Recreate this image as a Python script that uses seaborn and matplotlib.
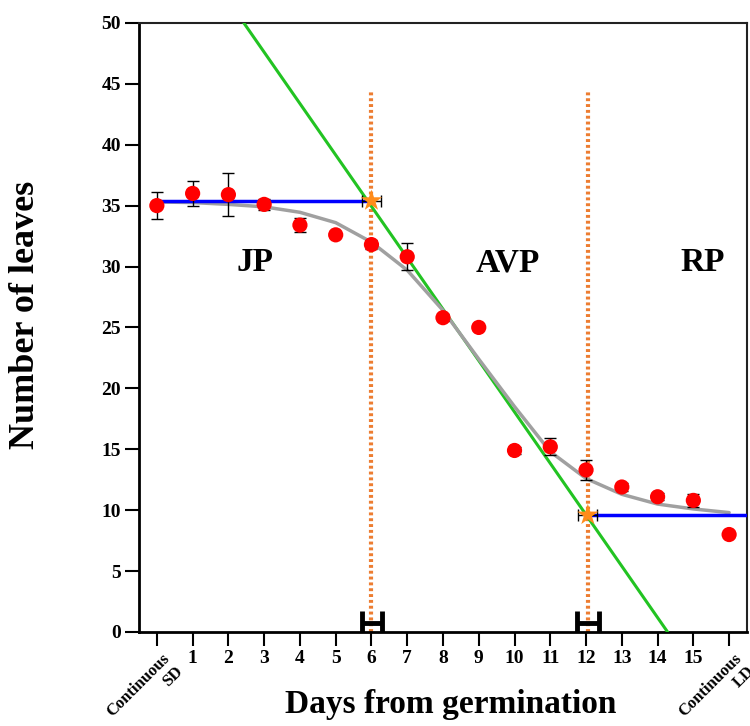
import matplotlib
matplotlib.use("Agg")
import matplotlib.pyplot as plt
import matplotlib.transforms as mtransforms
import seaborn as sns
import numpy as np
import pandas as pd

# ---- data ----
days = list(range(17))
tick_labels = ["Continuous\nSD"] + [str(i) for i in range(1, 16)] + ["Continuous\nLD"]
leaves = [35.0, 36.0, 35.9, 35.1, 33.4, 32.6, 31.8, 30.8, 25.8, 25.0,
          14.9, 15.2, 13.3, 11.9, 11.1, 10.8, 8.0]
leaves_err = [1.1, 1.0, 1.75, 0.45, 0.6, 0.0, 0.4, 1.1, 0.3, 0.0,
              0.3, 0.7, 0.85, 0.3, 0.3, 0.5, 0.0]
fit_curve = [35.3, 35.25, 35.1, 34.9, 34.45, 33.6, 32.0, 29.7, 26.4, 22.4,
             18.5, 14.8, 12.6, 11.3, 10.5, 10.1, 9.8]
green_x = [2.43, 14.28]
green_y = [50.0, 0.0]
jp_level = 35.4
rp_level = 9.6
transitions_x = [6.0, 12.05]
transitions_y = [35.4, 9.6]
transitions_xerr = [0.27, 0.27]
bottom_bar_x = [6.02, 12.05]
bottom_bar_err = [0.28, 0.3]
bottom_bar_y = 0.75
phase_labels = ["JP", "AVP", "RP"]
phase_x = [2.75, 9.8, 15.25]
phase_y = 30.3

sns.set_theme(style="white")
plt.rcParams['font.family'] = ['Liberation Serif', 'DejaVu Serif']
plt.rcParams.update({"text.color": "black", "axes.labelcolor": "black",
                     "xtick.color": "black", "ytick.color": "black"})

fig = plt.figure(figsize=(7.5, 7.26), dpi=100)
ax = fig.add_axes([0.1853, 0.1295, 0.8107, 0.8390])

orange = "#ED7D31"
# dotted vertical lines
for xv in transitions_x:
    ax.plot([xv, xv], [0, 44.3], color=orange, lw=3, linestyle=(0, (0.7, 0.7)), zorder=2)

# green regression line
sns.lineplot(x=green_x, y=green_y, color="#22C322", lw=2.2, ax=ax, zorder=3)

# grey fitted curve
df = pd.DataFrame({"day": days, "fit": fit_curve, "leaves": leaves, "err": leaves_err})
sns.lineplot(data=df, x="day", y="fit", color="#A0A0A0", lw=2.5, ax=ax, zorder=4)

# blue plateau lines
sns.lineplot(x=[0, transitions_x[0]], y=[jp_level, jp_level], color="#0000FF", lw=2.5, ax=ax, zorder=5)
sns.lineplot(x=[transitions_x[1], 16.5], y=[rp_level, rp_level], color="#0000FF", lw=2.5, ax=ax, zorder=5)

# error bars on data
ax.errorbar(df["day"], df["leaves"], yerr=df["err"], fmt="none", ecolor="black",
            elinewidth=1, capsize=4, capthick=1, zorder=6)
# data points
sns.scatterplot(data=df, x="day", y="leaves", color="#FF0000", s=120, edgecolor="none",
                ax=ax, zorder=7)

# transition stars with horizontal error
ax.errorbar(transitions_x, transitions_y, xerr=transitions_xerr, fmt="none", ecolor="black",
            elinewidth=1, capsize=4, zorder=8)
sns.scatterplot(x=transitions_x, y=transitions_y, marker="*", s=260, color="#FF8C1A",
                edgecolor="none", ax=ax, zorder=9)

# bottom thick H bars
ax.errorbar(bottom_bar_x, [bottom_bar_y] * 2, xerr=bottom_bar_err, fmt="none", ecolor="black",
            elinewidth=3.5, capsize=9, capthick=3.5, zorder=8)

# phase labels
for lab, px in zip(phase_labels, phase_x):
    ax.text(px, phase_y, lab, fontsize=24, fontweight="bold", ha="center", va="center",
            color="black")

ax.set_xlim(-0.5, 16.5)
ax.set_ylim(0, 50)
ax.set_yticks(range(0, 51, 5))
ax.set_yticklabels([str(v) for v in range(0, 51, 5)], fontsize=14, fontweight="bold")
ax.set_xticks(days)
# numeric tick labels as ticks; the rotated "Continuous" labels drawn as text at their ticks
ax.set_xticklabels([lab if "\n" not in lab else "" for lab in tick_labels],
                   fontsize=14, fontweight="bold")
blend = mtransforms.blended_transform_factory(ax.transData, ax.transAxes)
for d, lab in zip(days, tick_labels):
    if "\n" in lab:
        ax.text(d, -0.030, lab, transform=blend + mtransforms.ScaledTranslation(0.05, 0, fig.dpi_scale_trans),
                rotation=45, rotation_mode="anchor", ha="right", va="top",
                multialignment="right", fontsize=12, fontweight="bold", color="black",
                clip_on=False)

ax.tick_params(axis="both", direction="out", length=10, width=1.5, colors="black", pad=3,
               left=True, bottom=True)
for s in ["left", "bottom"]:
    ax.spines[s].set_linewidth(2)
    ax.spines[s].set_color("black")
for s in ["top", "right"]:
    ax.spines[s].set_linewidth(1.5)
    ax.spines[s].set_color("#222222")

ax.set_xlabel("Days from germination", fontsize=24, fontweight="bold", color="black")
ax.xaxis.set_label_coords(0.513, -0.093)
ax.set_ylabel("Number of leaves", fontsize=26, fontweight="bold", color="black")
ax.yaxis.set_label_coords(-0.16, 0.52)

fig.savefig("out.png", dpi=100)
